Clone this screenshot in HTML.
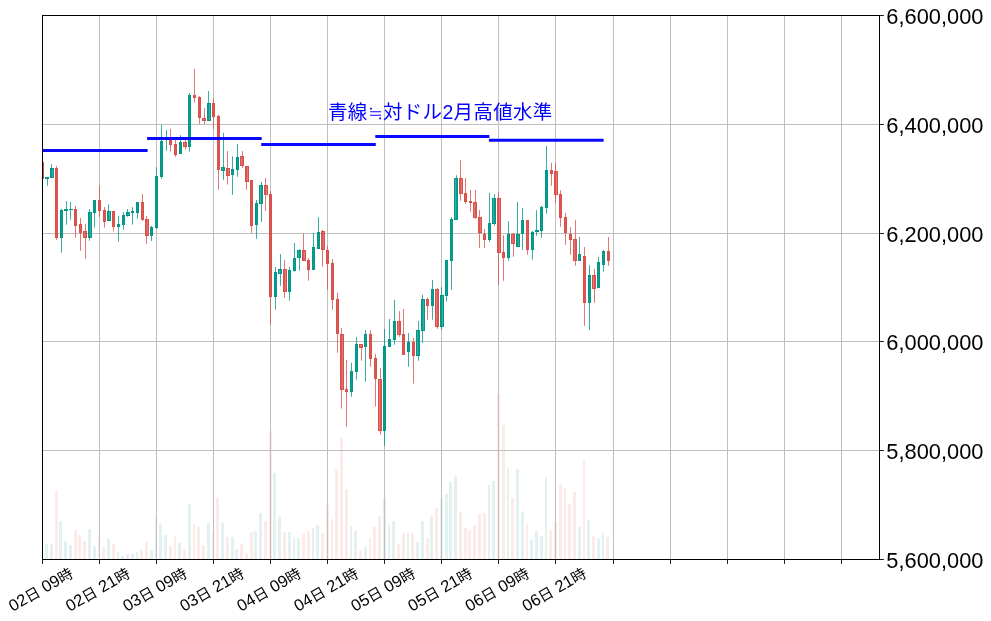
<!DOCTYPE html>
<html lang="ja"><head><meta charset="utf-8"><title>chart</title>
<style>html,body{margin:0;padding:0;background:#fff}svg{display:block}text{font-family:"Liberation Sans","Noto Sans CJK JP",sans-serif}.yl{font-size:21.8px;fill:#000}.xl{font-size:16.5px;fill:#000}.j{font-size:14.8px}.ti{font-size:19.44px;fill:#0000ff;letter-spacing:0.37px}</style></head><body>
<svg width="991" height="621" viewBox="0 0 991 621">
<rect width="991" height="621" fill="#fff"/>
<g shape-rendering="crispEdges">
<rect x="45" y="544" width="3" height="15.5" fill="#e3f2f0"/>
<rect x="50" y="544" width="3" height="15.5" fill="#e3f2f0"/>
<rect x="55" y="491" width="3" height="68.5" fill="#fdebe9"/>
<rect x="59" y="521" width="3" height="38.5" fill="#e3f2f0"/>
<rect x="64" y="541" width="3" height="18.5" fill="#e3f2f0"/>
<rect x="69" y="545" width="3" height="14.5" fill="#e3f2f0"/>
<rect x="74" y="530" width="3" height="29.5" fill="#fdebe9"/>
<rect x="78" y="535" width="3" height="24.5" fill="#fdebe9"/>
<rect x="83" y="541" width="3" height="18.5" fill="#fdebe9"/>
<rect x="88" y="529" width="3" height="30.5" fill="#e3f2f0"/>
<rect x="93" y="546" width="3" height="13.5" fill="#e3f2f0"/>
<rect x="98" y="538" width="2" height="21.5" fill="#fdebe9"/>
<rect x="102" y="547" width="3" height="12.5" fill="#fdebe9"/>
<rect x="107" y="539" width="3" height="20.5" fill="#e3f2f0"/>
<rect x="112" y="544" width="3" height="15.5" fill="#fdebe9"/>
<rect x="117" y="552" width="2" height="7.5" fill="#e3f2f0"/>
<rect x="121" y="556" width="3" height="3.5" fill="#e3f2f0"/>
<rect x="126" y="554" width="3" height="5.5" fill="#e3f2f0"/>
<rect x="131" y="554" width="3" height="5.5" fill="#e3f2f0"/>
<rect x="136" y="552" width="2" height="7.5" fill="#e3f2f0"/>
<rect x="140" y="550" width="3" height="9.5" fill="#fdebe9"/>
<rect x="145" y="542" width="3" height="17.5" fill="#fdebe9"/>
<rect x="150" y="550" width="3" height="9.5" fill="#e3f2f0"/>
<rect x="155" y="517" width="2" height="42.5" fill="#e3f2f0"/>
<rect x="159" y="524" width="3" height="35.5" fill="#e3f2f0"/>
<rect x="164" y="535" width="3" height="24.5" fill="#e3f2f0"/>
<rect x="169" y="546" width="3" height="13.5" fill="#fdebe9"/>
<rect x="174" y="536" width="2" height="23.5" fill="#fdebe9"/>
<rect x="178" y="543" width="3" height="16.5" fill="#e3f2f0"/>
<rect x="183" y="549" width="3" height="10.5" fill="#fdebe9"/>
<rect x="188" y="504" width="3" height="55.5" fill="#e3f2f0"/>
<rect x="193" y="524" width="2" height="35.5" fill="#fdebe9"/>
<rect x="197" y="527" width="3" height="32.5" fill="#fdebe9"/>
<rect x="202" y="545" width="3" height="14.5" fill="#fdebe9"/>
<rect x="207" y="523" width="3" height="36.5" fill="#e3f2f0"/>
<rect x="212" y="533" width="2" height="26.5" fill="#fdebe9"/>
<rect x="216" y="498" width="3" height="61.5" fill="#fdebe9"/>
<rect x="221" y="523" width="3" height="36.5" fill="#e3f2f0"/>
<rect x="226" y="537" width="3" height="22.5" fill="#fdebe9"/>
<rect x="231" y="537" width="3" height="22.5" fill="#e3f2f0"/>
<rect x="235" y="549" width="3" height="10.5" fill="#e3f2f0"/>
<rect x="240" y="544" width="3" height="15.5" fill="#fdebe9"/>
<rect x="245" y="553" width="3" height="6.5" fill="#fdebe9"/>
<rect x="250" y="532" width="3" height="27.5" fill="#fdebe9"/>
<rect x="254" y="531" width="3" height="28.5" fill="#e3f2f0"/>
<rect x="259" y="513" width="3" height="46.5" fill="#e3f2f0"/>
<rect x="264" y="521" width="3" height="38.5" fill="#fdebe9"/>
<rect x="269" y="431" width="3" height="128.5" fill="#fdebe9"/>
<rect x="273" y="473" width="3" height="86.5" fill="#e3f2f0"/>
<rect x="278" y="516" width="3" height="43.5" fill="#e3f2f0"/>
<rect x="283" y="532" width="3" height="27.5" fill="#fdebe9"/>
<rect x="288" y="532" width="3" height="27.5" fill="#e3f2f0"/>
<rect x="293" y="537" width="2" height="22.5" fill="#e3f2f0"/>
<rect x="297" y="538" width="3" height="21.5" fill="#e3f2f0"/>
<rect x="302" y="533" width="3" height="26.5" fill="#fdebe9"/>
<rect x="307" y="531" width="3" height="28.5" fill="#fdebe9"/>
<rect x="312" y="528" width="2" height="31.5" fill="#e3f2f0"/>
<rect x="316" y="525" width="3" height="34.5" fill="#e3f2f0"/>
<rect x="321" y="533" width="3" height="26.5" fill="#fdebe9"/>
<rect x="326" y="505" width="3" height="54.5" fill="#fdebe9"/>
<rect x="331" y="519" width="2" height="40.5" fill="#fdebe9"/>
<rect x="335" y="469" width="3" height="90.5" fill="#fdebe9"/>
<rect x="340" y="438" width="3" height="121.5" fill="#fdebe9"/>
<rect x="345" y="489" width="3" height="70.5" fill="#fdebe9"/>
<rect x="350" y="526" width="2" height="33.5" fill="#e3f2f0"/>
<rect x="354" y="531" width="3" height="28.5" fill="#e3f2f0"/>
<rect x="359" y="550" width="3" height="9.5" fill="#fdebe9"/>
<rect x="364" y="547" width="3" height="12.5" fill="#e3f2f0"/>
<rect x="369" y="538" width="2" height="21.5" fill="#fdebe9"/>
<rect x="373" y="527" width="3" height="32.5" fill="#fdebe9"/>
<rect x="378" y="516" width="3" height="43.5" fill="#fdebe9"/>
<rect x="383" y="498" width="3" height="61.5" fill="#e3f2f0"/>
<rect x="388" y="524" width="2" height="35.5" fill="#e3f2f0"/>
<rect x="392" y="521" width="3" height="38.5" fill="#e3f2f0"/>
<rect x="397" y="544" width="3" height="15.5" fill="#fdebe9"/>
<rect x="402" y="533" width="3" height="26.5" fill="#fdebe9"/>
<rect x="407" y="533" width="2" height="26.5" fill="#e3f2f0"/>
<rect x="411" y="533" width="3" height="26.5" fill="#fdebe9"/>
<rect x="416" y="542" width="3" height="17.5" fill="#e3f2f0"/>
<rect x="421" y="521" width="3" height="38.5" fill="#e3f2f0"/>
<rect x="426" y="538" width="3" height="21.5" fill="#fdebe9"/>
<rect x="430" y="516" width="3" height="43.5" fill="#e3f2f0"/>
<rect x="435" y="508" width="3" height="51.5" fill="#fdebe9"/>
<rect x="440" y="499" width="3" height="60.5" fill="#e3f2f0"/>
<rect x="445" y="494" width="3" height="65.5" fill="#e3f2f0"/>
<rect x="449" y="482" width="3" height="77.5" fill="#e3f2f0"/>
<rect x="454" y="476" width="3" height="83.5" fill="#e3f2f0"/>
<rect x="459" y="512" width="3" height="47.5" fill="#fdebe9"/>
<rect x="464" y="528" width="3" height="31.5" fill="#fdebe9"/>
<rect x="468" y="530" width="3" height="29.5" fill="#fdebe9"/>
<rect x="473" y="525" width="3" height="34.5" fill="#fdebe9"/>
<rect x="478" y="514" width="3" height="45.5" fill="#fdebe9"/>
<rect x="483" y="513" width="3" height="46.5" fill="#fdebe9"/>
<rect x="488" y="485" width="2" height="74.5" fill="#e3f2f0"/>
<rect x="492" y="481" width="3" height="78.5" fill="#e3f2f0"/>
<rect x="497" y="394" width="3" height="165.5" fill="#fdebe9"/>
<rect x="502" y="425" width="3" height="134.5" fill="#fdebe9"/>
<rect x="507" y="468" width="2" height="91.5" fill="#e3f2f0"/>
<rect x="511" y="498" width="3" height="61.5" fill="#fdebe9"/>
<rect x="516" y="469" width="3" height="90.5" fill="#e3f2f0"/>
<rect x="521" y="512" width="3" height="47.5" fill="#e3f2f0"/>
<rect x="526" y="524" width="2" height="35.5" fill="#fdebe9"/>
<rect x="530" y="540" width="3" height="19.5" fill="#e3f2f0"/>
<rect x="535" y="531" width="3" height="28.5" fill="#e3f2f0"/>
<rect x="540" y="536" width="3" height="23.5" fill="#e3f2f0"/>
<rect x="545" y="477" width="2" height="82.5" fill="#e3f2f0"/>
<rect x="549" y="530" width="3" height="29.5" fill="#fdebe9"/>
<rect x="554" y="522" width="3" height="37.5" fill="#fdebe9"/>
<rect x="559" y="484" width="3" height="75.5" fill="#fdebe9"/>
<rect x="564" y="488" width="2" height="71.5" fill="#fdebe9"/>
<rect x="568" y="504" width="3" height="55.5" fill="#fdebe9"/>
<rect x="573" y="492" width="3" height="67.5" fill="#fdebe9"/>
<rect x="578" y="527" width="3" height="32.5" fill="#e3f2f0"/>
<rect x="583" y="460" width="2" height="99.5" fill="#fdebe9"/>
<rect x="587" y="520" width="3" height="39.5" fill="#e3f2f0"/>
<rect x="592" y="536" width="3" height="23.5" fill="#fdebe9"/>
<rect x="597" y="538" width="3" height="21.5" fill="#e3f2f0"/>
<rect x="602" y="533" width="2" height="26.5" fill="#e3f2f0"/>
<rect x="606" y="537" width="3" height="22.5" fill="#fdebe9"/>
</g>
<g stroke="#bfbfbf" stroke-width="1">
<line x1="99.5" y1="15.5" x2="99.5" y2="559.5"/>
<line x1="156.5" y1="15.5" x2="156.5" y2="559.5"/>
<line x1="213.5" y1="15.5" x2="213.5" y2="559.5"/>
<line x1="270.5" y1="15.5" x2="270.5" y2="559.5"/>
<line x1="327.5" y1="15.5" x2="327.5" y2="559.5"/>
<line x1="384.5" y1="15.5" x2="384.5" y2="559.5"/>
<line x1="441.5" y1="15.5" x2="441.5" y2="559.5"/>
<line x1="498.5" y1="15.5" x2="498.5" y2="559.5"/>
<line x1="555.5" y1="15.5" x2="555.5" y2="559.5"/>
<line x1="613.5" y1="15.5" x2="613.5" y2="559.5"/>
<line x1="670.5" y1="15.5" x2="670.5" y2="559.5"/>
<line x1="727.5" y1="15.5" x2="727.5" y2="559.5"/>
<line x1="784.5" y1="15.5" x2="784.5" y2="559.5"/>
<line x1="841.5" y1="15.5" x2="841.5" y2="559.5"/>
<line x1="42.5" y1="124.5" x2="879.5" y2="124.5"/>
<line x1="42.5" y1="233.5" x2="879.5" y2="233.5"/>
<line x1="42.5" y1="341.5" x2="879.5" y2="341.5"/>
<line x1="42.5" y1="450.5" x2="879.5" y2="450.5"/>
</g>
<g>
<rect x="42" y="156.0" width="1" height="27.0" fill="#d9504a" fill-opacity="0.77"/>
<rect x="42.5" y="162.5" width="1" height="16" fill="#d9504a" fill-opacity="0.77" stroke="#d9504a" stroke-width="1"/>
<rect x="47" y="177.0" width="1" height="8.8" fill="#009688" fill-opacity="0.77"/>
<rect x="45" y="177" width="4" height="2" fill="#009688"/>
<rect x="51" y="164.1" width="1" height="13.7" fill="#009688" fill-opacity="0.77"/>
<rect x="50.5" y="168.5" width="3" height="9" fill="#009688" fill-opacity="0.77" stroke="#009688" stroke-width="1"/>
<rect x="56" y="165.8" width="1" height="74.0" fill="#d9504a" fill-opacity="0.77"/>
<rect x="55.5" y="168.5" width="2" height="69" fill="#d9504a" fill-opacity="0.77" stroke="#d9504a" stroke-width="1"/>
<rect x="61" y="209.0" width="1" height="43.7" fill="#009688" fill-opacity="0.77"/>
<rect x="60.5" y="210.5" width="2" height="27" fill="#009688" fill-opacity="0.77" stroke="#009688" stroke-width="1"/>
<rect x="66" y="201.1" width="1" height="23.5" fill="#009688" fill-opacity="0.77"/>
<rect x="64" y="209" width="4" height="2" fill="#009688"/>
<rect x="70" y="202.0" width="1" height="17.8" fill="#009688" fill-opacity="0.77"/>
<rect x="69" y="209" width="4" height="1" fill="#009688"/>
<rect x="75" y="205.9" width="1" height="31.8" fill="#d9504a" fill-opacity="0.77"/>
<rect x="74.5" y="209.5" width="2" height="16" fill="#d9504a" fill-opacity="0.77" stroke="#d9504a" stroke-width="1"/>
<rect x="80" y="218.1" width="1" height="32.7" fill="#d9504a" fill-opacity="0.77"/>
<rect x="79.5" y="224.5" width="2" height="8" fill="#d9504a" fill-opacity="0.77" stroke="#d9504a" stroke-width="1"/>
<rect x="85" y="223.9" width="1" height="34.9" fill="#d9504a" fill-opacity="0.77"/>
<rect x="83.5" y="231.5" width="3" height="6" fill="#d9504a" fill-opacity="0.77" stroke="#d9504a" stroke-width="1"/>
<rect x="89" y="209.1" width="1" height="31.6" fill="#009688" fill-opacity="0.77"/>
<rect x="88.5" y="212.5" width="3" height="25" fill="#009688" fill-opacity="0.77" stroke="#009688" stroke-width="1"/>
<rect x="94" y="200.0" width="1" height="27.6" fill="#009688" fill-opacity="0.77"/>
<rect x="93.5" y="200.5" width="2" height="12" fill="#009688" fill-opacity="0.77" stroke="#009688" stroke-width="1"/>
<rect x="99" y="185.8" width="1" height="31.0" fill="#d9504a" fill-opacity="0.77"/>
<rect x="98.5" y="200.5" width="2" height="10" fill="#d9504a" fill-opacity="0.77" stroke="#d9504a" stroke-width="1"/>
<rect x="104" y="207.1" width="1" height="20.5" fill="#d9504a" fill-opacity="0.77"/>
<rect x="103.5" y="210.5" width="2" height="11" fill="#d9504a" fill-opacity="0.77" stroke="#d9504a" stroke-width="1"/>
<rect x="108" y="204.2" width="1" height="16.5" fill="#009688" fill-opacity="0.77"/>
<rect x="107.5" y="211.5" width="3" height="9" fill="#009688" fill-opacity="0.77" stroke="#009688" stroke-width="1"/>
<rect x="113" y="211.0" width="1" height="20.4" fill="#d9504a" fill-opacity="0.77"/>
<rect x="112.5" y="211.5" width="2" height="15" fill="#d9504a" fill-opacity="0.77" stroke="#d9504a" stroke-width="1"/>
<rect x="118" y="215.9" width="1" height="25.8" fill="#009688" fill-opacity="0.77"/>
<rect x="117.5" y="224.5" width="2" height="2" fill="#009688" fill-opacity="0.77" stroke="#009688" stroke-width="1"/>
<rect x="123" y="212.1" width="1" height="17.6" fill="#009688" fill-opacity="0.77"/>
<rect x="122.5" y="215.5" width="2" height="9" fill="#009688" fill-opacity="0.77" stroke="#009688" stroke-width="1"/>
<rect x="127" y="209.1" width="1" height="7.7" fill="#009688" fill-opacity="0.77"/>
<rect x="126.5" y="212.5" width="3" height="3" fill="#009688" fill-opacity="0.77" stroke="#009688" stroke-width="1"/>
<rect x="132" y="207.1" width="1" height="17.5" fill="#009688" fill-opacity="0.77"/>
<rect x="131" y="211" width="3" height="2" fill="#009688"/>
<rect x="137" y="202.0" width="1" height="16.8" fill="#009688" fill-opacity="0.77"/>
<rect x="136.5" y="202.5" width="2" height="10" fill="#009688" fill-opacity="0.77" stroke="#009688" stroke-width="1"/>
<rect x="142" y="194.0" width="1" height="26.7" fill="#d9504a" fill-opacity="0.77"/>
<rect x="141.5" y="202.5" width="2" height="17" fill="#d9504a" fill-opacity="0.77" stroke="#d9504a" stroke-width="1"/>
<rect x="146" y="215.9" width="1" height="28.0" fill="#d9504a" fill-opacity="0.77"/>
<rect x="145.5" y="219.5" width="3" height="16" fill="#d9504a" fill-opacity="0.77" stroke="#d9504a" stroke-width="1"/>
<rect x="151" y="225.8" width="1" height="15.1" fill="#009688" fill-opacity="0.77"/>
<rect x="150.5" y="227.5" width="2" height="8" fill="#009688" fill-opacity="0.77" stroke="#009688" stroke-width="1"/>
<rect x="156" y="167.1" width="1" height="61.7" fill="#009688" fill-opacity="0.77"/>
<rect x="155.5" y="176.5" width="2" height="51" fill="#009688" fill-opacity="0.77" stroke="#009688" stroke-width="1"/>
<rect x="161" y="124.8" width="1" height="54.0" fill="#009688" fill-opacity="0.77"/>
<rect x="160.5" y="141.5" width="2" height="35" fill="#009688" fill-opacity="0.77" stroke="#009688" stroke-width="1"/>
<rect x="166" y="130.1" width="1" height="20.7" fill="#009688" fill-opacity="0.77"/>
<rect x="164" y="138" width="4" height="1" fill="#009688"/>
<rect x="170" y="129.0" width="1" height="22.6" fill="#d9504a" fill-opacity="0.77"/>
<rect x="169.5" y="140.5" width="2" height="4" fill="#d9504a" fill-opacity="0.77" stroke="#d9504a" stroke-width="1"/>
<rect x="175" y="140.0" width="1" height="16.8" fill="#d9504a" fill-opacity="0.77"/>
<rect x="174.5" y="144.5" width="2" height="10" fill="#d9504a" fill-opacity="0.77" stroke="#d9504a" stroke-width="1"/>
<rect x="180" y="135.1" width="1" height="18.7" fill="#009688" fill-opacity="0.77"/>
<rect x="179.5" y="142.5" width="2" height="11" fill="#009688" fill-opacity="0.77" stroke="#009688" stroke-width="1"/>
<rect x="185" y="138.1" width="1" height="11.6" fill="#d9504a" fill-opacity="0.77"/>
<rect x="183.5" y="142.5" width="3" height="4" fill="#d9504a" fill-opacity="0.77" stroke="#d9504a" stroke-width="1"/>
<rect x="189" y="92.9" width="1" height="58.7" fill="#009688" fill-opacity="0.77"/>
<rect x="188.5" y="95.5" width="2" height="51" fill="#009688" fill-opacity="0.77" stroke="#009688" stroke-width="1"/>
<rect x="194" y="69.0" width="1" height="33.6" fill="#d9504a" fill-opacity="0.77"/>
<rect x="193.5" y="95.5" width="2" height="2" fill="#d9504a" fill-opacity="0.77" stroke="#d9504a" stroke-width="1"/>
<rect x="199" y="96.2" width="1" height="27.7" fill="#d9504a" fill-opacity="0.77"/>
<rect x="198.5" y="97.5" width="2" height="20" fill="#d9504a" fill-opacity="0.77" stroke="#d9504a" stroke-width="1"/>
<rect x="204" y="108.0" width="1" height="15.9" fill="#d9504a" fill-opacity="0.77"/>
<rect x="202.5" y="118.5" width="3" height="2" fill="#d9504a" fill-opacity="0.77" stroke="#d9504a" stroke-width="1"/>
<rect x="208" y="91.0" width="1" height="29.7" fill="#009688" fill-opacity="0.77"/>
<rect x="207.5" y="103.5" width="3" height="17" fill="#009688" fill-opacity="0.77" stroke="#009688" stroke-width="1"/>
<rect x="213" y="98.8" width="1" height="30.1" fill="#d9504a" fill-opacity="0.77"/>
<rect x="212.5" y="103.5" width="2" height="13" fill="#d9504a" fill-opacity="0.77" stroke="#d9504a" stroke-width="1"/>
<rect x="218" y="114.9" width="1" height="74.8" fill="#d9504a" fill-opacity="0.77"/>
<rect x="217.5" y="116.5" width="2" height="53" fill="#d9504a" fill-opacity="0.77" stroke="#d9504a" stroke-width="1"/>
<rect x="223" y="132.9" width="1" height="46.9" fill="#009688" fill-opacity="0.77"/>
<rect x="221.5" y="167.5" width="3" height="3" fill="#009688" fill-opacity="0.77" stroke="#009688" stroke-width="1"/>
<rect x="227" y="151.0" width="1" height="33.6" fill="#d9504a" fill-opacity="0.77"/>
<rect x="226.5" y="168.5" width="3" height="7" fill="#d9504a" fill-opacity="0.77" stroke="#d9504a" stroke-width="1"/>
<rect x="232" y="156.2" width="1" height="38.7" fill="#009688" fill-opacity="0.77"/>
<rect x="231.5" y="169.5" width="2" height="5" fill="#009688" fill-opacity="0.77" stroke="#009688" stroke-width="1"/>
<rect x="237" y="143.9" width="1" height="32.9" fill="#009688" fill-opacity="0.77"/>
<rect x="236.5" y="157.5" width="2" height="12" fill="#009688" fill-opacity="0.77" stroke="#009688" stroke-width="1"/>
<rect x="242" y="151.0" width="1" height="16.8" fill="#d9504a" fill-opacity="0.77"/>
<rect x="240.5" y="156.5" width="3" height="9" fill="#d9504a" fill-opacity="0.77" stroke="#d9504a" stroke-width="1"/>
<rect x="246" y="166.1" width="1" height="23.6" fill="#d9504a" fill-opacity="0.77"/>
<rect x="245.5" y="166.5" width="3" height="15" fill="#d9504a" fill-opacity="0.77" stroke="#d9504a" stroke-width="1"/>
<rect x="251" y="180.1" width="1" height="52.8" fill="#d9504a" fill-opacity="0.77"/>
<rect x="250.5" y="180.5" width="2" height="45" fill="#d9504a" fill-opacity="0.77" stroke="#d9504a" stroke-width="1"/>
<rect x="256" y="200.0" width="1" height="38.8" fill="#009688" fill-opacity="0.77"/>
<rect x="255.5" y="203.5" width="2" height="21" fill="#009688" fill-opacity="0.77" stroke="#009688" stroke-width="1"/>
<rect x="261" y="181.9" width="1" height="40.0" fill="#009688" fill-opacity="0.77"/>
<rect x="259.5" y="185.5" width="3" height="18" fill="#009688" fill-opacity="0.77" stroke="#009688" stroke-width="1"/>
<rect x="265" y="178.0" width="1" height="32.9" fill="#d9504a" fill-opacity="0.77"/>
<rect x="264.5" y="185.5" width="3" height="9" fill="#d9504a" fill-opacity="0.77" stroke="#d9504a" stroke-width="1"/>
<rect x="270" y="191.0" width="1" height="133.8" fill="#d9504a" fill-opacity="0.77"/>
<rect x="269.5" y="194.5" width="2" height="102" fill="#d9504a" fill-opacity="0.77" stroke="#d9504a" stroke-width="1"/>
<rect x="275" y="267.1" width="1" height="42.6" fill="#009688" fill-opacity="0.77"/>
<rect x="274.5" y="272.5" width="2" height="24" fill="#009688" fill-opacity="0.77" stroke="#009688" stroke-width="1"/>
<rect x="280" y="254.0" width="1" height="31.9" fill="#009688" fill-opacity="0.77"/>
<rect x="278.5" y="269.5" width="3" height="4" fill="#009688" fill-opacity="0.77" stroke="#009688" stroke-width="1"/>
<rect x="284" y="260.0" width="1" height="37.8" fill="#d9504a" fill-opacity="0.77"/>
<rect x="283.5" y="269.5" width="3" height="22" fill="#d9504a" fill-opacity="0.77" stroke="#d9504a" stroke-width="1"/>
<rect x="289" y="267.1" width="1" height="33.6" fill="#009688" fill-opacity="0.77"/>
<rect x="288.5" y="270.5" width="2" height="21" fill="#009688" fill-opacity="0.77" stroke="#009688" stroke-width="1"/>
<rect x="294" y="243.0" width="1" height="28.7" fill="#009688" fill-opacity="0.77"/>
<rect x="293.5" y="258.5" width="2" height="12" fill="#009688" fill-opacity="0.77" stroke="#009688" stroke-width="1"/>
<rect x="299" y="249.1" width="1" height="21.7" fill="#009688" fill-opacity="0.77"/>
<rect x="297.5" y="250.5" width="3" height="7" fill="#009688" fill-opacity="0.77" stroke="#009688" stroke-width="1"/>
<rect x="303" y="233.8" width="1" height="26.9" fill="#d9504a" fill-opacity="0.77"/>
<rect x="302.5" y="250.5" width="3" height="10" fill="#d9504a" fill-opacity="0.77" stroke="#d9504a" stroke-width="1"/>
<rect x="308" y="258.1" width="1" height="22.6" fill="#d9504a" fill-opacity="0.77"/>
<rect x="307.5" y="260.5" width="2" height="9" fill="#d9504a" fill-opacity="0.77" stroke="#d9504a" stroke-width="1"/>
<rect x="313" y="232.9" width="1" height="36.8" fill="#009688" fill-opacity="0.77"/>
<rect x="312.5" y="247.5" width="2" height="22" fill="#009688" fill-opacity="0.77" stroke="#009688" stroke-width="1"/>
<rect x="318" y="217.1" width="1" height="31.6" fill="#009688" fill-opacity="0.77"/>
<rect x="317.5" y="232.5" width="2" height="16" fill="#009688" fill-opacity="0.77" stroke="#009688" stroke-width="1"/>
<rect x="322" y="230.0" width="1" height="36.8" fill="#d9504a" fill-opacity="0.77"/>
<rect x="321.5" y="231.5" width="3" height="18" fill="#d9504a" fill-opacity="0.77" stroke="#d9504a" stroke-width="1"/>
<rect x="327" y="245.8" width="1" height="43.9" fill="#d9504a" fill-opacity="0.77"/>
<rect x="326.5" y="250.5" width="2" height="13" fill="#d9504a" fill-opacity="0.77" stroke="#d9504a" stroke-width="1"/>
<rect x="332" y="259.0" width="1" height="50.7" fill="#d9504a" fill-opacity="0.77"/>
<rect x="331.5" y="263.5" width="2" height="36" fill="#d9504a" fill-opacity="0.77" stroke="#d9504a" stroke-width="1"/>
<rect x="337" y="292.9" width="1" height="59.9" fill="#d9504a" fill-opacity="0.77"/>
<rect x="336.5" y="299.5" width="2" height="34" fill="#d9504a" fill-opacity="0.77" stroke="#d9504a" stroke-width="1"/>
<rect x="341" y="328.0" width="1" height="80.6" fill="#d9504a" fill-opacity="0.77"/>
<rect x="340.5" y="334.5" width="3" height="55" fill="#d9504a" fill-opacity="0.77" stroke="#d9504a" stroke-width="1"/>
<rect x="346" y="360.0" width="1" height="66.8" fill="#d9504a" fill-opacity="0.77"/>
<rect x="345.5" y="389.5" width="2" height="2" fill="#d9504a" fill-opacity="0.77" stroke="#d9504a" stroke-width="1"/>
<rect x="351" y="362.9" width="1" height="33.9" fill="#009688" fill-opacity="0.77"/>
<rect x="350.5" y="371.5" width="2" height="20" fill="#009688" fill-opacity="0.77" stroke="#009688" stroke-width="1"/>
<rect x="356" y="337.0" width="1" height="42.7" fill="#009688" fill-opacity="0.77"/>
<rect x="355.5" y="344.5" width="2" height="27" fill="#009688" fill-opacity="0.77" stroke="#009688" stroke-width="1"/>
<rect x="361" y="344.2" width="1" height="16.5" fill="#d9504a" fill-opacity="0.77"/>
<rect x="359.5" y="344.5" width="3" height="3" fill="#d9504a" fill-opacity="0.77" stroke="#d9504a" stroke-width="1"/>
<rect x="365" y="330.0" width="1" height="51.7" fill="#009688" fill-opacity="0.77"/>
<rect x="364.5" y="334.5" width="2" height="12" fill="#009688" fill-opacity="0.77" stroke="#009688" stroke-width="1"/>
<rect x="370" y="330.0" width="1" height="36.8" fill="#d9504a" fill-opacity="0.77"/>
<rect x="369.5" y="334.5" width="2" height="24" fill="#d9504a" fill-opacity="0.77" stroke="#d9504a" stroke-width="1"/>
<rect x="375" y="354.1" width="1" height="52.5" fill="#d9504a" fill-opacity="0.77"/>
<rect x="374.5" y="358.5" width="2" height="20" fill="#d9504a" fill-opacity="0.77" stroke="#d9504a" stroke-width="1"/>
<rect x="380" y="368.1" width="1" height="66.5" fill="#d9504a" fill-opacity="0.77"/>
<rect x="378.5" y="379.5" width="3" height="51" fill="#d9504a" fill-opacity="0.77" stroke="#d9504a" stroke-width="1"/>
<rect x="384" y="329.0" width="1" height="116.9" fill="#009688" fill-opacity="0.77"/>
<rect x="383.5" y="346.5" width="2" height="84" fill="#009688" fill-opacity="0.77" stroke="#009688" stroke-width="1"/>
<rect x="389" y="319.0" width="1" height="27.8" fill="#009688" fill-opacity="0.77"/>
<rect x="388.5" y="339.5" width="2" height="7" fill="#009688" fill-opacity="0.77" stroke="#009688" stroke-width="1"/>
<rect x="394" y="300.0" width="1" height="44.8" fill="#009688" fill-opacity="0.77"/>
<rect x="393.5" y="321.5" width="2" height="18" fill="#009688" fill-opacity="0.77" stroke="#009688" stroke-width="1"/>
<rect x="399" y="311.1" width="1" height="25.7" fill="#d9504a" fill-opacity="0.77"/>
<rect x="397.5" y="321.5" width="3" height="13" fill="#d9504a" fill-opacity="0.77" stroke="#d9504a" stroke-width="1"/>
<rect x="403" y="309.0" width="1" height="45.5" fill="#d9504a" fill-opacity="0.77"/>
<rect x="402.5" y="334.5" width="2" height="20" fill="#d9504a" fill-opacity="0.77" stroke="#d9504a" stroke-width="1"/>
<rect x="408" y="333.0" width="1" height="33.8" fill="#009688" fill-opacity="0.77"/>
<rect x="407.5" y="342.5" width="2" height="9" fill="#009688" fill-opacity="0.77" stroke="#009688" stroke-width="1"/>
<rect x="413" y="337.9" width="1" height="45.7" fill="#d9504a" fill-opacity="0.77"/>
<rect x="412.5" y="342.5" width="2" height="13" fill="#d9504a" fill-opacity="0.77" stroke="#d9504a" stroke-width="1"/>
<rect x="418" y="321.0" width="1" height="39.7" fill="#009688" fill-opacity="0.77"/>
<rect x="416.5" y="330.5" width="3" height="25" fill="#009688" fill-opacity="0.77" stroke="#009688" stroke-width="1"/>
<rect x="422" y="294.8" width="1" height="48.0" fill="#009688" fill-opacity="0.77"/>
<rect x="421.5" y="299.5" width="3" height="31" fill="#009688" fill-opacity="0.77" stroke="#009688" stroke-width="1"/>
<rect x="427" y="297.8" width="1" height="21.9" fill="#d9504a" fill-opacity="0.77"/>
<rect x="426.5" y="299.5" width="2" height="6" fill="#d9504a" fill-opacity="0.77" stroke="#d9504a" stroke-width="1"/>
<rect x="432" y="280.1" width="1" height="39.6" fill="#009688" fill-opacity="0.77"/>
<rect x="431.5" y="289.5" width="2" height="16" fill="#009688" fill-opacity="0.77" stroke="#009688" stroke-width="1"/>
<rect x="437" y="288.1" width="1" height="40.7" fill="#d9504a" fill-opacity="0.77"/>
<rect x="435.5" y="289.5" width="3" height="37" fill="#d9504a" fill-opacity="0.77" stroke="#d9504a" stroke-width="1"/>
<rect x="441" y="286.9" width="1" height="42.9" fill="#009688" fill-opacity="0.77"/>
<rect x="440.5" y="295.5" width="3" height="31" fill="#009688" fill-opacity="0.77" stroke="#009688" stroke-width="1"/>
<rect x="446" y="260.1" width="1" height="41.5" fill="#009688" fill-opacity="0.77"/>
<rect x="445.5" y="260.5" width="2" height="35" fill="#009688" fill-opacity="0.77" stroke="#009688" stroke-width="1"/>
<rect x="451" y="217.1" width="1" height="72.7" fill="#009688" fill-opacity="0.77"/>
<rect x="450.5" y="219.5" width="2" height="41" fill="#009688" fill-opacity="0.77" stroke="#009688" stroke-width="1"/>
<rect x="456" y="175.2" width="1" height="44.6" fill="#009688" fill-opacity="0.77"/>
<rect x="454.5" y="178.5" width="3" height="41" fill="#009688" fill-opacity="0.77" stroke="#009688" stroke-width="1"/>
<rect x="460" y="160.1" width="1" height="40.7" fill="#d9504a" fill-opacity="0.77"/>
<rect x="459.5" y="178.5" width="3" height="15" fill="#d9504a" fill-opacity="0.77" stroke="#d9504a" stroke-width="1"/>
<rect x="465" y="178.0" width="1" height="25.6" fill="#d9504a" fill-opacity="0.77"/>
<rect x="464.5" y="193.5" width="2" height="8" fill="#d9504a" fill-opacity="0.77" stroke="#d9504a" stroke-width="1"/>
<rect x="470" y="190.0" width="1" height="21.7" fill="#d9504a" fill-opacity="0.77"/>
<rect x="469" y="201" width="3" height="2" fill="#d9504a"/>
<rect x="475" y="190.0" width="1" height="28.8" fill="#d9504a" fill-opacity="0.77"/>
<rect x="473.5" y="202.5" width="3" height="15" fill="#d9504a" fill-opacity="0.77" stroke="#d9504a" stroke-width="1"/>
<rect x="479" y="210.1" width="1" height="37.7" fill="#d9504a" fill-opacity="0.77"/>
<rect x="478.5" y="217.5" width="3" height="15" fill="#d9504a" fill-opacity="0.77" stroke="#d9504a" stroke-width="1"/>
<rect x="484" y="229.0" width="1" height="18.8" fill="#d9504a" fill-opacity="0.77"/>
<rect x="483.5" y="234.5" width="2" height="5" fill="#d9504a" fill-opacity="0.77" stroke="#d9504a" stroke-width="1"/>
<rect x="489" y="193.0" width="1" height="48.9" fill="#009688" fill-opacity="0.77"/>
<rect x="488.5" y="223.5" width="2" height="16" fill="#009688" fill-opacity="0.77" stroke="#009688" stroke-width="1"/>
<rect x="494" y="193.9" width="1" height="31.8" fill="#009688" fill-opacity="0.77"/>
<rect x="492.5" y="198.5" width="3" height="25" fill="#009688" fill-opacity="0.77" stroke="#009688" stroke-width="1"/>
<rect x="498" y="192.0" width="1" height="92.9" fill="#d9504a" fill-opacity="0.77"/>
<rect x="497.5" y="198.5" width="3" height="54" fill="#d9504a" fill-opacity="0.77" stroke="#d9504a" stroke-width="1"/>
<rect x="503" y="235.2" width="1" height="45.6" fill="#d9504a" fill-opacity="0.77"/>
<rect x="502.5" y="252.5" width="2" height="5" fill="#d9504a" fill-opacity="0.77" stroke="#d9504a" stroke-width="1"/>
<rect x="508" y="221.0" width="1" height="39.8" fill="#009688" fill-opacity="0.77"/>
<rect x="507.5" y="234.5" width="2" height="23" fill="#009688" fill-opacity="0.77" stroke="#009688" stroke-width="1"/>
<rect x="513" y="233.0" width="1" height="23.8" fill="#d9504a" fill-opacity="0.77"/>
<rect x="511.5" y="234.5" width="3" height="9" fill="#d9504a" fill-opacity="0.77" stroke="#d9504a" stroke-width="1"/>
<rect x="517" y="202.1" width="1" height="44.7" fill="#009688" fill-opacity="0.77"/>
<rect x="516.5" y="234.5" width="3" height="12" fill="#009688" fill-opacity="0.77" stroke="#009688" stroke-width="1"/>
<rect x="522" y="208.1" width="1" height="41.7" fill="#009688" fill-opacity="0.77"/>
<rect x="521.5" y="220.5" width="2" height="13" fill="#009688" fill-opacity="0.77" stroke="#009688" stroke-width="1"/>
<rect x="527" y="220.1" width="1" height="34.7" fill="#d9504a" fill-opacity="0.77"/>
<rect x="526.5" y="220.5" width="2" height="29" fill="#d9504a" fill-opacity="0.77" stroke="#d9504a" stroke-width="1"/>
<rect x="532" y="231.0" width="1" height="28.7" fill="#009688" fill-opacity="0.77"/>
<rect x="531.5" y="232.5" width="2" height="17" fill="#009688" fill-opacity="0.77" stroke="#009688" stroke-width="1"/>
<rect x="536" y="210.1" width="1" height="25.7" fill="#009688" fill-opacity="0.77"/>
<rect x="535" y="230" width="4" height="2" fill="#009688"/>
<rect x="541" y="205.9" width="1" height="31.9" fill="#009688" fill-opacity="0.77"/>
<rect x="540.5" y="207.5" width="2" height="23" fill="#009688" fill-opacity="0.77" stroke="#009688" stroke-width="1"/>
<rect x="546" y="146.1" width="1" height="67.7" fill="#009688" fill-opacity="0.77"/>
<rect x="545.5" y="170.5" width="2" height="37" fill="#009688" fill-opacity="0.77" stroke="#009688" stroke-width="1"/>
<rect x="551" y="162.9" width="1" height="22.9" fill="#d9504a" fill-opacity="0.77"/>
<rect x="550.5" y="170.5" width="2" height="3" fill="#d9504a" fill-opacity="0.77" stroke="#d9504a" stroke-width="1"/>
<rect x="555" y="162.9" width="1" height="39.9" fill="#d9504a" fill-opacity="0.77"/>
<rect x="554.5" y="171.5" width="3" height="23" fill="#d9504a" fill-opacity="0.77" stroke="#d9504a" stroke-width="1"/>
<rect x="560" y="190.2" width="1" height="36.5" fill="#d9504a" fill-opacity="0.77"/>
<rect x="559.5" y="194.5" width="2" height="23" fill="#d9504a" fill-opacity="0.77" stroke="#d9504a" stroke-width="1"/>
<rect x="565" y="213.0" width="1" height="31.8" fill="#d9504a" fill-opacity="0.77"/>
<rect x="564.5" y="217.5" width="2" height="15" fill="#d9504a" fill-opacity="0.77" stroke="#d9504a" stroke-width="1"/>
<rect x="570" y="227.0" width="1" height="27.8" fill="#d9504a" fill-opacity="0.77"/>
<rect x="569.5" y="234.5" width="2" height="5" fill="#d9504a" fill-opacity="0.77" stroke="#d9504a" stroke-width="1"/>
<rect x="575" y="219.9" width="1" height="45.9" fill="#d9504a" fill-opacity="0.77"/>
<rect x="573.5" y="239.5" width="3" height="21" fill="#d9504a" fill-opacity="0.77" stroke="#d9504a" stroke-width="1"/>
<rect x="579" y="236.9" width="1" height="23.8" fill="#009688" fill-opacity="0.77"/>
<rect x="578.5" y="254.5" width="2" height="6" fill="#009688" fill-opacity="0.77" stroke="#009688" stroke-width="1"/>
<rect x="584" y="247.0" width="1" height="78.8" fill="#d9504a" fill-opacity="0.77"/>
<rect x="583.5" y="256.5" width="2" height="46" fill="#d9504a" fill-opacity="0.77" stroke="#d9504a" stroke-width="1"/>
<rect x="589" y="265.1" width="1" height="64.8" fill="#009688" fill-opacity="0.77"/>
<rect x="588.5" y="275.5" width="2" height="27" fill="#009688" fill-opacity="0.77" stroke="#009688" stroke-width="1"/>
<rect x="594" y="269.0" width="1" height="33.7" fill="#d9504a" fill-opacity="0.77"/>
<rect x="592.5" y="275.5" width="3" height="13" fill="#d9504a" fill-opacity="0.77" stroke="#d9504a" stroke-width="1"/>
<rect x="598" y="257.0" width="1" height="30.7" fill="#009688" fill-opacity="0.77"/>
<rect x="597.5" y="262.5" width="2" height="25" fill="#009688" fill-opacity="0.77" stroke="#009688" stroke-width="1"/>
<rect x="603" y="250.0" width="1" height="21.7" fill="#009688" fill-opacity="0.77"/>
<rect x="602.5" y="251.5" width="2" height="13" fill="#009688" fill-opacity="0.77" stroke="#009688" stroke-width="1"/>
<rect x="608" y="236.9" width="1" height="28.9" fill="#d9504a" fill-opacity="0.77"/>
<rect x="607.5" y="251.5" width="2" height="9" fill="#d9504a" fill-opacity="0.77" stroke="#d9504a" stroke-width="1"/>
</g>
<g stroke="#0000ff" stroke-width="3" stroke-opacity="0.96">
<line x1="42.5" y1="150.4" x2="147.6" y2="150.4"/>
<line x1="147.1" y1="138.5" x2="261.7" y2="138.5"/>
<line x1="261.2" y1="144.4" x2="375.8" y2="144.4"/>
<line x1="375.3" y1="136.4" x2="489.4" y2="136.4"/>
<line x1="488.9" y1="140.3" x2="603.6" y2="140.3"/>
</g>
<rect x="42.5" y="15.5" width="837.0" height="544.0" fill="none" stroke="#000" stroke-width="1"/>
<g stroke="#000" stroke-width="0.9">
<line x1="42.5" y1="559.5" x2="42.5" y2="563.9"/>
<line x1="99.5" y1="559.5" x2="99.5" y2="563.9"/>
<line x1="156.5" y1="559.5" x2="156.5" y2="563.9"/>
<line x1="213.5" y1="559.5" x2="213.5" y2="563.9"/>
<line x1="270.5" y1="559.5" x2="270.5" y2="563.9"/>
<line x1="327.5" y1="559.5" x2="327.5" y2="563.9"/>
<line x1="384.5" y1="559.5" x2="384.5" y2="563.9"/>
<line x1="441.5" y1="559.5" x2="441.5" y2="563.9"/>
<line x1="498.5" y1="559.5" x2="498.5" y2="563.9"/>
<line x1="555.5" y1="559.5" x2="555.5" y2="563.9"/>
<line x1="613.5" y1="559.5" x2="613.5" y2="563.9"/>
<line x1="670.5" y1="559.5" x2="670.5" y2="563.9"/>
<line x1="727.5" y1="559.5" x2="727.5" y2="563.9"/>
<line x1="784.5" y1="559.5" x2="784.5" y2="563.9"/>
<line x1="841.5" y1="559.5" x2="841.5" y2="563.9"/>
<line x1="879.5" y1="15.5" x2="883.9" y2="15.5"/>
<line x1="879.5" y1="124.5" x2="883.9" y2="124.5"/>
<line x1="879.5" y1="233.5" x2="883.9" y2="233.5"/>
<line x1="879.5" y1="341.5" x2="883.9" y2="341.5"/>
<line x1="879.5" y1="450.5" x2="883.9" y2="450.5"/>
<line x1="879.5" y1="559.5" x2="883.9" y2="559.5"/>
</g>
<text class="yl" x="886.3" y="23.6" textLength="97.2" lengthAdjust="spacingAndGlyphs">6,600,000</text>
<text class="yl" x="886.3" y="132.6" textLength="97.2" lengthAdjust="spacingAndGlyphs">6,400,000</text>
<text class="yl" x="886.3" y="241.6" textLength="97.2" lengthAdjust="spacingAndGlyphs">6,200,000</text>
<text class="yl" x="886.3" y="349.6" textLength="97.2" lengthAdjust="spacingAndGlyphs">6,000,000</text>
<text class="yl" x="886.3" y="458.6" textLength="97.2" lengthAdjust="spacingAndGlyphs">5,800,000</text>
<text class="yl" x="886.3" y="567.6" textLength="97.2" lengthAdjust="spacingAndGlyphs">5,600,000</text>
<text class="xl" text-anchor="middle" transform="translate(40.5,589) rotate(-30)" y="6">02<tspan class="j">日</tspan> 09<tspan class="j">時</tspan></text>
<text class="xl" text-anchor="middle" transform="translate(97.5,589) rotate(-30)" y="6">02<tspan class="j">日</tspan> 21<tspan class="j">時</tspan></text>
<text class="xl" text-anchor="middle" transform="translate(154.6,589) rotate(-30)" y="6">03<tspan class="j">日</tspan> 09<tspan class="j">時</tspan></text>
<text class="xl" text-anchor="middle" transform="translate(211.6,589) rotate(-30)" y="6">03<tspan class="j">日</tspan> 21<tspan class="j">時</tspan></text>
<text class="xl" text-anchor="middle" transform="translate(268.7,589) rotate(-30)" y="6">04<tspan class="j">日</tspan> 09<tspan class="j">時</tspan></text>
<text class="xl" text-anchor="middle" transform="translate(325.8,589) rotate(-30)" y="6">04<tspan class="j">日</tspan> 21<tspan class="j">時</tspan></text>
<text class="xl" text-anchor="middle" transform="translate(382.8,589) rotate(-30)" y="6">05<tspan class="j">日</tspan> 09<tspan class="j">時</tspan></text>
<text class="xl" text-anchor="middle" transform="translate(439.8,589) rotate(-30)" y="6">05<tspan class="j">日</tspan> 21<tspan class="j">時</tspan></text>
<text class="xl" text-anchor="middle" transform="translate(496.9,589) rotate(-30)" y="6">06<tspan class="j">日</tspan> 09<tspan class="j">時</tspan></text>
<text class="xl" text-anchor="middle" transform="translate(553.9,589) rotate(-30)" y="6">06<tspan class="j">日</tspan> 21<tspan class="j">時</tspan></text>
<text class="ti" x="328" y="118.6">青線≒対ドル2月高値水準</text>
</svg></body></html>
